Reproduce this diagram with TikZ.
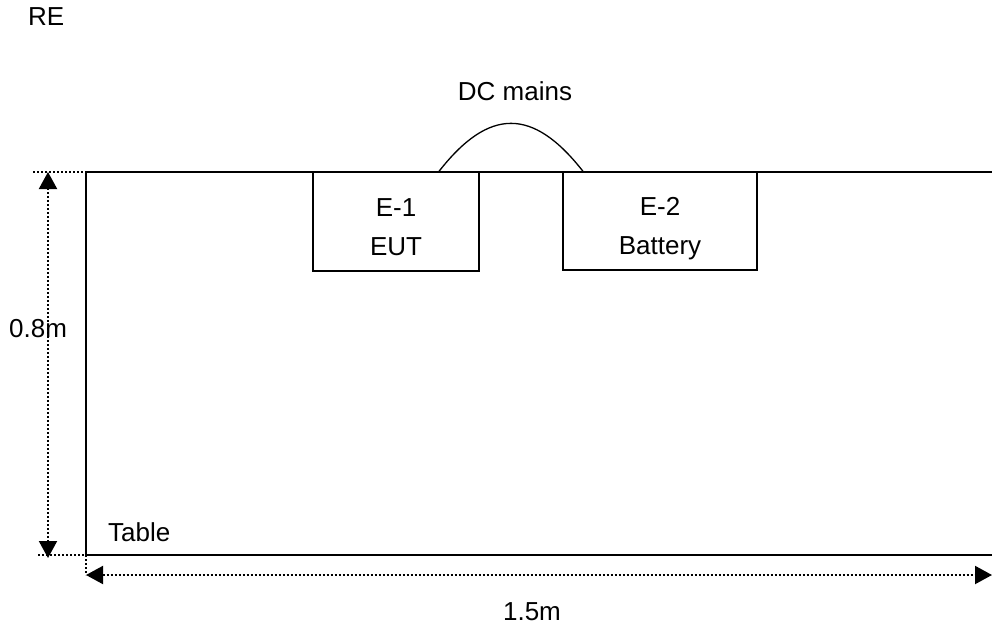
\documentclass[tikz,border=0pt]{standalone}
\usepackage{fontspec}
\setmainfont{Liberation Sans}
\usetikzlibrary{arrows.meta}

\tikzset{
  lbl/.style={font=\fontsize{26}{39}\selectfont, inner sep=0pt},
  unitbox/.style={draw, line width=1.3pt, inner sep=0pt, lbl, align=center,
    text height=67pt, text depth=0pt},
  tableline/.style={line width=2pt},
  dimline/.style={line width=2pt, dash pattern=on 2pt off 2pt},
  dimarrow/.style={dimline, {Triangle[length=17pt,width=18pt]}-{Triangle[length=17pt,width=18pt]}}
}

\begin{document}
\begin{tikzpicture}[x=1pt, y=-1pt]
  \useasboundingbox (0,0) rectangle (992,629);

  % table outline (open to the right)
  \coordinate (tl) at (86,172);
  \coordinate (bl) at (86,555);
  \draw[tableline] (992,172) -- (tl) -- (bl) -- (992,555);
  \node[lbl, anchor=base west] (tablelbl) at (108,541) {Table};
  \node[lbl, anchor=base west] (relbl) at (28,25) {RE};

  % equipment on the table
  \node[unitbox, minimum width=166pt, minimum height=99pt] (eut) at (396,221.5) {E-1\\EUT};
  \node[unitbox, minimum width=194pt, minimum height=98pt] (bat) at (660,221) {E-2\\Battery};

  % DC mains cable
  \coordinate (cabA) at ([xshift=43pt]eut.north);
  \coordinate (cabB) at ([xshift=-77pt]bat.north);
  \draw[line width=1.3pt] (cabA) .. controls +(50,-64) and +(-50,-64) .. (cabB);
  \node[lbl, anchor=base] (dcmains) at (515,100) {DC mains};

  % height 0.8m
  \coordinate (hTop) at (48,172);
  \coordinate (hBot) at (48,558);
  \draw[dimline] (33,172) -- (tl);
  \draw[dimline] (38,555) -- (108,555);
  \draw[dimarrow] (hBot) -- (hTop);
  \node[lbl, anchor=base west] (hlbl) at (9,337) {0.8m};

  % length 1.5m
  \coordinate (wL) at (86,575);
  \coordinate (wR) at (992,575);
  \draw[dimline] (bl) -- (86,575);
  \draw[dimarrow] (wL) -- (wR);
  \node[lbl, anchor=base] (wlbl) at (532,620) {1.5m};
\end{tikzpicture}
\end{document}
